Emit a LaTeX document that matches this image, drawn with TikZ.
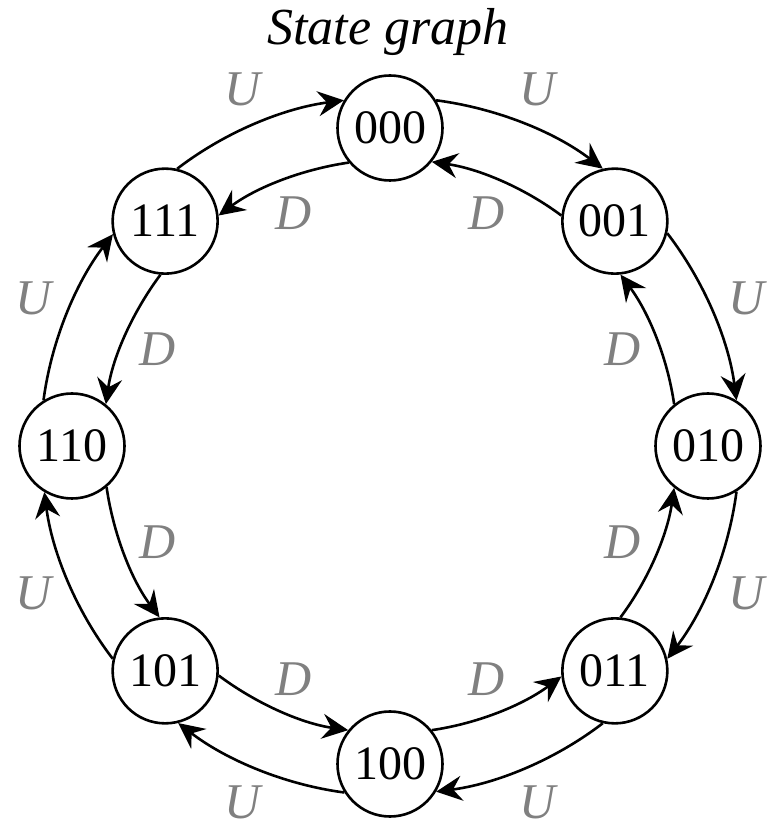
\documentclass[tikz,border=0pt]{standalone}
\usepackage{fontspec}
\setmainfont{Liberation Serif}
\usetikzlibrary{arrows.meta,calc}
\definecolor{labgray}{RGB}{128,128,128}
\begin{document}
\begin{tikzpicture}[x=1pt,y=1pt,
  state/.style={circle,draw,line width=2.6pt,minimum size=105pt,inner sep=0pt,font=\fontsize{48}{58}\selectfont},
  lab/.style={font=\fontsize{50}{60}\selectfont\itshape,text=labgray,inner sep=0pt},
  arr/.style={line width=2.6pt,-{Stealth[length=26pt,width=25pt,inset=9pt]},looseness=0.86}]
\useasboundingbox (0,0) rectangle (769,823);
\coordinate (C) at (390,377);
\node[font=\fontsize{52}{62}\selectfont\itshape,anchor=base,inner sep=0pt] (title) at (388,778) {State graph};
\foreach \n [count=\k from 0] in {000,001,010,011,100,101,110,111}
  \node[state] (s\n) at ($(C)+({90-45*\k}:318)$) {\n};
\foreach \a/\b [count=\k from 0] in {000/001,001/010,010/011,011/100,100/101,101/110,110/111,111/000}{
  \pgfmathsetmacro{\ta}{90-45*\k}
  \pgfmathsetmacro{\tb}{\ta-45}
  \pgfmathsetmacro{\sa}{\ta-58.4}
  \pgfmathsetmacro{\oa}{\ta-97.5}
  \pgfmathsetmacro{\ib}{\tb+97.5}
  \pgfmathsetmacro{\eb}{\tb+58.4}
  \pgfmathsetmacro{\sb}{\tb+129.46}
  \pgfmathsetmacro{\ob}{\tb+98.27}
  \pgfmathsetmacro{\ia}{\ta-98.27}
  \pgfmathsetmacro{\ea}{\ta-129.46}
  \pgfmathsetmacro{\tm}{\ta-22.5}
  \draw[arr] (s\a.\sa) to[out=\oa,in=\ib] (s\b.\eb);
  \draw[arr] (s\b.\sb) to[out=\ob,in=\ia] (s\a.\ea);
  \node[lab] (u\a) at ($(C)+(\tm:386)$) {U};
  \node[lab] (d\a) at ($(C)+(\tm:252)$) {D};
}
\end{tikzpicture}
\end{document}
